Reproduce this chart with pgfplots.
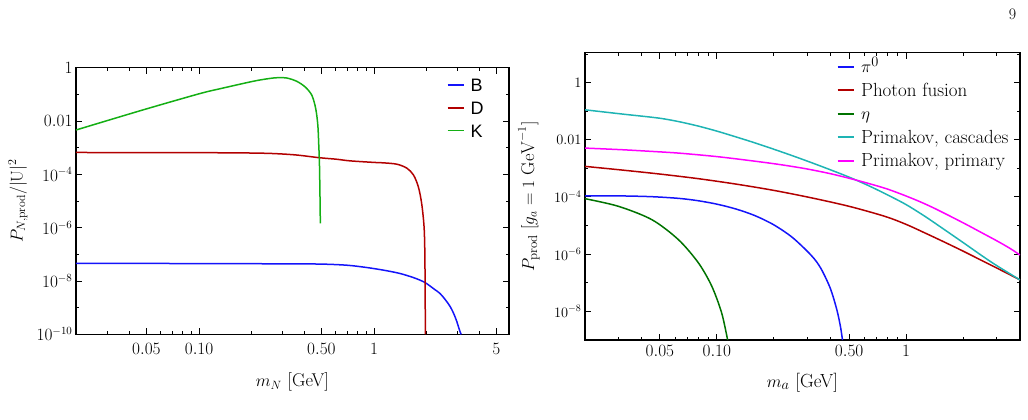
\documentclass[border=0pt]{standalone}
\usepackage{fontspec}
\usepackage{pgfplots}
\pgfplotsset{compat=1.18}
\newfontfamily\sansleg{Liberation Sans}
\definecolor{cB}{RGB}{20,20,250}
\definecolor{cD}{RGB}{178,0,0}
\definecolor{cK}{RGB}{20,175,20}
\definecolor{cEta}{RGB}{0,115,0}
\definecolor{cCas}{RGB}{30,180,180}
\definecolor{cPri}{RGB}{255,0,255}
\begin{document}
\begin{tikzpicture}[x=1pt,y=1pt]
\useasboundingbox (0,0) rectangle (1028,420);
\node[font=\fontsize{16}{18}\selectfont] at (1012.5,405.5) {9};
% ---------------- left panel ----------------
\begin{axis}[
  xmode=log, ymode=log, scale only axis,
  axis line style={line width=1.4pt},
  tick align=inside,
  major tick length=6pt, minor tick length=3.5pt,
  every tick/.style={black, line width=0.9pt},
  every minor tick/.style={black, line width=0.7pt},
  xticklabel style={font=\fontsize{17.5}{20}\selectfont, yshift=-6pt},
  yticklabel style={font=\fontsize{16}{18}\selectfont},
  xlabel style={font=\fontsize{18.5}{21}\selectfont},
  ylabel style={font=\fontsize{17}{20}\selectfont},
  legend cell align=left,
  legend image code/.code={\draw[#1, line width=1.8pt] (0pt,0pt) -- (16.6pt,0pt);},
  at={(76pt,85.7pt)}, anchor=south west,
  width=433pt, height=266.6pt,
  xmin=0.0198, xmax=5.9, ymin=1e-10, ymax=1,
  xtick={0.05,0.1,0.5,1,5},
  xticklabels={$0.05$,$0.10$,$0.50$,$1$,$5$},
  minor xtick={0.03,0.04,0.06,0.07,0.08,0.09,0.2,0.3,0.4,0.6,0.7,0.8,0.9,2,3,4},
  ytick={1e-10,1e-8,1e-6,1e-4,1e-2,1},
  yticklabels={$10^{-10}$,$10^{-8}$,$10^{-6}$,$10^{-4}$,$0.01$,$1$},
  minor ytick={1e-9,1e-7,1e-5,1e-3,0.1},
  xlabel={$m_N$ [GeV]},
  xlabel style={at={(rel axis cs:0.5,0)}, anchor=base, yshift=-52.4pt},
  ylabel={$P_{N,\mathrm{prod}}/|\mathrm{U}|^2$},
  ylabel style={at={(rel axis cs:-0.134,0.5)}, anchor=center},
  legend style={at={(0.856,0.9595)}, anchor=north west, draw=none, fill=none,
    inner sep=0pt, outer sep=0pt, row sep=9.8pt,
    font=\sansleg\fontsize{18}{20}\selectfont,
    nodes={inner sep=0pt, text height=13pt, text depth=0pt},
    /tikz/every odd column/.append style={column sep=5.5pt}},
]
\addplot[cB, line width=1.5pt, smooth] coordinates {(0.0198,4.6e-8) (0.1,4.5e-8) (0.3,4.4e-8) (0.5,4.3e-8) (0.7,3.9e-8) (0.908,3.2e-8) (1.15,2.5e-8) (1.41,1.9e-8) (1.7,1.3e-8) (1.95,8.8e-9) (2.2,5e-9) (2.38,3.4e-9) (2.55,2e-9) (2.72,1.1e-9) (2.85,6e-10) (2.97,3e-10) (3.06,1.6e-10) (3.13,1.05e-10) (3.15,1e-10)};
\addlegendentry{B}
\addplot[cD, line width=1.5pt, smooth] coordinates {(0.0198,6.6e-4) (0.1,6.5e-4) (0.231,6.2e-4) (0.35,5.4e-4) (0.487,4.2e-4) (0.607,3.7e-4) (0.73,3.2e-4) (1.0,2.8e-4) (1.13,2.7e-4) (1.35,2.4e-4) (1.54,1.7e-4) (1.68,9.4e-5) (1.79,3.4e-5) (1.87,8.1e-6) (1.93,1.08e-6) (1.95,1e-7) (1.96,1e-9) (1.963,1e-10)};
\addlegendentry{D}
\addplot[cK, line width=1.5pt, smooth] coordinates {(0.0198,0.0046) (0.0477,0.026) (0.1,0.105) (0.132,0.163) (0.204,0.31) (0.25,0.39) (0.278,0.42) (0.317,0.41) (0.361,0.31) (0.404,0.189) (0.441,0.092) (0.464,0.029) (0.477,0.0069) (0.483,0.0012) (0.487,2.9e-4) (0.490,3e-5) (0.492,4e-6) (0.493,1.45e-6)};
\addlegendentry{K}
\end{axis}
% ---------------- right panel ----------------
\begin{axis}[
  xmode=log, ymode=log, scale only axis,
  axis line style={line width=1.4pt},
  tick align=inside,
  major tick length=6pt, minor tick length=3.5pt,
  every tick/.style={black, line width=0.9pt},
  every minor tick/.style={black, line width=0.7pt},
  xticklabel style={font=\fontsize{17.5}{20}\selectfont, yshift=-2pt},
  yticklabel style={font=\fontsize{14.5}{17}\selectfont},
  xlabel style={font=\fontsize{19}{22}\selectfont},
  ylabel style={font=\fontsize{18.5}{21}\selectfont},
  legend cell align=left,
  legend image code/.code={\draw[#1, line width=1.8pt] (0pt,0pt) -- (16.6pt,0pt);},
  at={(585pt,80pt)}, anchor=south west,
  width=435pt, height=287.3pt,
  xmin=0.0201, xmax=4, ymin=1e-9, ymax=11,
  xtick={0.05,0.1,0.5,1},
  xticklabels={$0.05$,$0.10$,$0.50$,$1$},
  minor xtick={0.03,0.04,0.06,0.07,0.08,0.09,0.2,0.3,0.4,0.6,0.7,0.8,0.9,2,3},
  ytick={1e-8,1e-6,1e-4,1e-2,1},
  yticklabels={$10^{-8}$,$10^{-6}$,$10^{-4}$,$0.01$,$1$},
  minor ytick={1e-7,1e-5,1e-3,0.1,10},
  xlabel={$m_a$ [GeV]},
  xlabel style={at={(rel axis cs:0.5,0)}, anchor=base, yshift=-47.3pt},
  ylabel={$P_\mathrm{prod}\;[g_a = 1\ \mathrm{GeV}^{-1}]$},
  ylabel style={at={(rel axis cs:-0.129,0.5)}, anchor=center},
  legend style={at={(0.5786,0.972)}, anchor=north west, draw=none, fill=none,
    inner sep=0pt, outer sep=0pt, row sep=11.5pt,
    font=\fontsize{19}{21}\selectfont,
    nodes={inner sep=0pt, text height=12pt, text depth=0pt},
    /tikz/every odd column/.append style={column sep=6pt}},
]
\addplot[cB, line width=1.5pt, smooth] coordinates {(0.0201,1.1e-4) (0.0316,1.084e-4) (0.0454,1.02e-4) (0.0631,8.9e-5) (0.0794,7.4e-5) (0.1,5.6e-5) (0.1259,3.8e-5) (0.1585,2.24e-5) (0.1995,1.07e-5) (0.2512,3.8e-6) (0.3162,8.9e-7) (0.3548,3.16e-7) (0.3981,6.3e-8) (0.4305,1.15e-8) (0.4498,3e-9) (0.4613,1e-9)};
\addlegendentry{$\pi^0$}
\addplot[cD, line width=1.5pt, smooth] coordinates {(0.0201,1.17e-3) (0.0316,8.7e-4) (0.0501,6.3e-4) (0.0794,4.37e-4) (0.1259,2.82e-4) (0.1995,1.70e-4) (0.3162,9.3e-5) (0.5012,4.68e-5) (0.774,2.09e-5) (1,1.10e-5) (1.259,5.5e-6) (1.585,2.69e-6) (2.01,1.26e-6) (2.512,6.0e-7) (3.01,3.3e-7) (4,1.26e-7)};
\addlegendentry{Photon fusion}
\addplot[cEta, line width=1.5pt, smooth] coordinates {(0.0201,8.7e-5) (0.0302,4.7e-5) (0.0454,1.6e-5) (0.0627,3.2e-6) (0.08,4.9e-7) (0.094,7.6e-8) (0.106,8.9e-9) (0.114,1e-9)};
\addlegendentry{$\eta$}
\addplot[cCas, line width=1.5pt, smooth] coordinates {(0.0201,0.111) (0.0316,0.079) (0.0492,0.0571) (0.0631,0.0427) (0.0794,0.0302) (0.1,0.020) (0.1259,0.0126) (0.1585,0.0078) (0.1995,0.00468) (0.2512,0.00275) (0.3162,0.00158) (0.398,8.9e-4) (0.501,4.9e-4) (0.631,2.51e-4) (0.794,1.2e-4) (1,5.4e-5) (1.259,2.09e-5) (1.585,7.4e-6) (2.01,2.5e-6) (2.512,8.9e-7) (3.01,4.0e-7) (4,1.26e-7)};
\addlegendentry{Primakov, cascades}
\addplot[cPri, line width=1.5pt, smooth] coordinates {(0.0201,5.1e-3) (0.0316,4.47e-3) (0.0454,3.9e-3) (0.0631,3.4e-3) (0.1,2.57e-3) (0.1585,1.78e-3) (0.216,1.35e-3) (0.292,9.8e-4) (0.398,6.5e-4) (0.56,3.7e-4) (0.794,1.9e-4) (1.094,8.5e-5) (1.413,4.0e-5) (2.01,1.23e-5) (2.512,5.6e-6) (3.01,2.95e-6) (3.548,1.58e-6) (4,9.3e-7)};
\addlegendentry{Primakov, primary}
\end{axis}
\end{tikzpicture}
\end{document}
